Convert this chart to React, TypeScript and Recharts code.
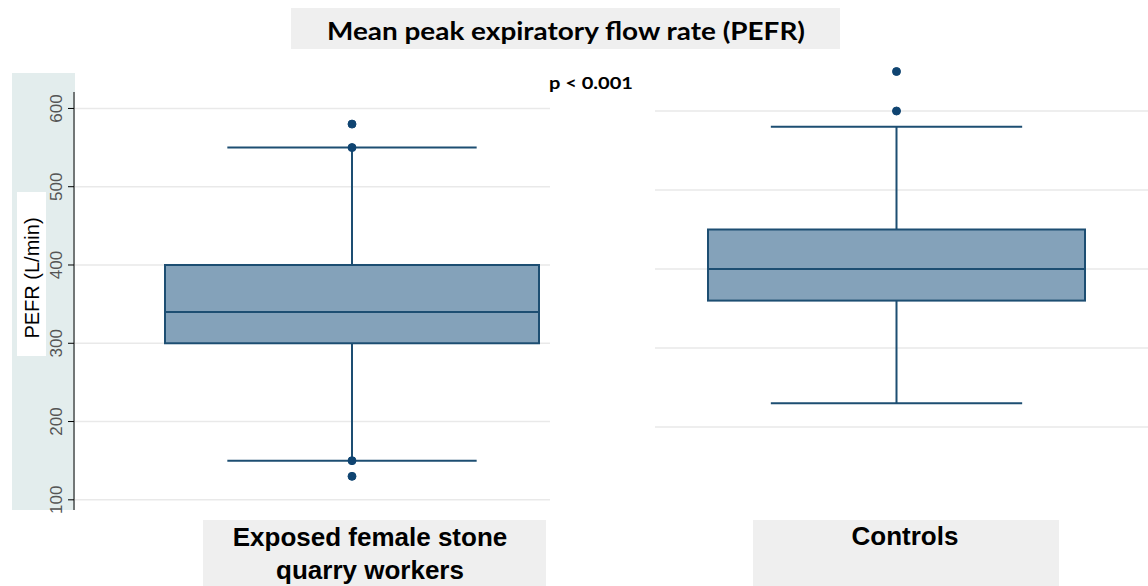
import React from 'react';
import { ComposedChart, Bar, Line, XAxis, YAxis, CartesianGrid } from 'recharts';

const categories = ['Exposed female stone quarry workers', 'Controls'];
const whiskerLow = [150, 230];
const q1 = [300, 360];
const median = [340, 400];
const q3 = [400, 450];
const whiskerHigh = [550, 580];
const outliers = [[130, 150, 550, 580], [600, 650]];
const leftTicks = [100, 200, 300, 400, 500, 600];
const rightTicks = [200, 300, 400, 500, 600];
const title = 'Mean peak expiratory flow rate (PEFR)';
const pText = 'p < 0.001';
const yLabel = 'PEFR (L/min)';
const xLabelLines = [['Exposed female stone', 'quarry workers'], ['Controls']];

const BOX_FILL = '#84a2ba';
const LINE = '#1d4e72';
const DOT = '#0f4471';

function rowFor(i: number) {
  const row: any = {
    name: categories[i],
    range: [whiskerLow[i], whiskerHigh[i]],
    low: whiskerLow[i],
    q1: q1[i],
    median: median[i],
    q3: q3[i],
    high: whiskerHigh[i],
  };
  outliers[i].forEach((v, k) => {
    row['o' + k] = v;
  });
  return [row];
}

const BoxShape = (props: any) => {
  const { x, y, width, height, payload } = props;
  const top = Math.min(y, y + height);
  const bottom = Math.max(y, y + height);
  const lo = payload.low;
  const hi = payload.high;
  const toY = (v: number) => bottom - ((bottom - top) * (v - lo)) / (hi - lo);
  const cx = x + width / 2;
  const capHalf = width / 3;
  const yq1 = toY(payload.q1);
  const yq3 = toY(payload.q3);
  const ym = toY(payload.median);
  return (
    <g>
      <line x1={cx} x2={cx} y1={top} y2={bottom} stroke={LINE} strokeWidth={2} />
      <line x1={cx - capHalf} x2={cx + capHalf} y1={top} y2={top} stroke={LINE} strokeWidth={2} />
      <line x1={cx - capHalf} x2={cx + capHalf} y1={bottom} y2={bottom} stroke={LINE} strokeWidth={2} />
      <rect x={x} y={yq3} width={width} height={yq1 - yq3} fill={BOX_FILL} stroke={LINE} strokeWidth={2} />
      <line x1={x} x2={x + width} y1={ym} y2={ym} stroke={LINE} strokeWidth={2} />
    </g>
  );
};

const RotTick = (props: any) => {
  const { x, y, payload } = props;
  const tx = x - 4;
  return (
    <text
      x={tx}
      y={y}
      transform={`rotate(-90, ${tx}, ${y})`}
      textAnchor="middle"
      fontFamily="'Liberation Sans', Arial, sans-serif"
      fontSize={17}
      fill="#555"
    >
      {payload.value}
    </text>
  );
};

function outlierLines(i: number) {
  return outliers[i].map((_, k) => (
    <Line
      key={'o' + k}
      dataKey={'o' + k}
      stroke="none"
      isAnimationActive={false}
      dot={{ r: 4, fill: DOT, stroke: DOT, strokeWidth: 1 }}
      activeDot={false}
    />
  ));
}

export default function App() {
  const left = rowFor(0);
  const right = rowFor(1);
  return (
    <div style={{ position: 'absolute', left: 0, top: 0, width: 1148, height: 586, background: '#fff', overflow: 'hidden' }}>
      <svg width={1148} height={586} style={{ position: 'absolute', left: 0, top: 0 }}>
        <rect x={291} y={8} width={549} height={41} fill="#efefef" />
        <text x={566} y={40} textAnchor="middle" fontFamily="Lato, 'Open Sans', sans-serif" fontWeight={700} fontSize={25} fill="#000" textLength={478} lengthAdjust="spacingAndGlyphs">
          {title}
        </text>
        <text x={591} y={89} textAnchor="middle" fontFamily="Lato, 'Open Sans', sans-serif" fontWeight={700} fontSize={17} fill="#000" textLength={84} lengthAdjust="spacingAndGlyphs">
          {pText}
        </text>
        <rect x={12} y={73} width={63} height={437} fill="#e3eded" />
        <rect x={17} y={192} width={29} height={164} fill="#fff" />
        <text x={39} y={278} transform="rotate(-90, 39, 278)" textAnchor="middle" fontFamily="'Liberation Sans', Arial, sans-serif" fontSize={20} fill="#000">
          {yLabel}
        </text>
        <rect x={203} y={520} width={343} height={66} fill="#efefef" />
        <rect x={753} y={520} width={306} height={66} fill="#efefef" />
        {xLabelLines[0].map((t, k) => (
          <text key={k} x={370} y={546 + k * 33} textAnchor="middle" fontFamily="'Liberation Sans', Arial, sans-serif" fontWeight={700} fontSize={26} fill="#000">
            {t}
          </text>
        ))}
        {xLabelLines[1].map((t, k) => (
          <text key={k} x={905} y={545 + k * 33} textAnchor="middle" fontFamily="'Liberation Sans', Arial, sans-serif" fontWeight={700} fontSize={26} fill="#000">
            {t}
          </text>
        ))}
      </svg>

      <div style={{ position: 'absolute', left: 0, top: 0 }}>
        <ComposedChart width={560} height={520} data={left} margin={{ top: 92, right: 10, bottom: 10, left: 14 }}>
          <CartesianGrid vertical={false} horizontalValues={leftTicks} stroke="#e9e9e9" strokeWidth={1.5} />
          <XAxis dataKey="name" hide padding={{ left: 80, right: 0 }} />
          <YAxis
            type="number"
            domain={[87, 621]}
            ticks={leftTicks}
            interval={0}
            width={60}
            axisLine={{ stroke: '#000', strokeWidth: 1 }}
            tickLine={{ stroke: '#000', strokeWidth: 1 }}
            tickSize={6}
            tickMargin={2}
            tick={<RotTick />}
          />
          <Bar dataKey="range" barSize={374} shape={<BoxShape />} isAnimationActive={false} />
          {outlierLines(0)}
        </ComposedChart>
      </div>

      <div style={{ position: 'absolute', left: 640, top: 0 }}>
        <ComposedChart width={508} height={520} data={right} margin={{ top: 63.6, right: 0, bottom: 77.2, left: 15 }}>
          <CartesianGrid vertical={false} horizontalValues={rightTicks} stroke="#e9e9e9" strokeWidth={1.5} />
          <XAxis dataKey="name" hide padding={{ left: 0, right: 10 }} />
          <YAxis type="number" domain={[180, 660]} ticks={rightTicks} interval={0} hide />
          <Bar dataKey="range" barSize={377} shape={<BoxShape />} isAnimationActive={false} />
          {outlierLines(1)}
        </ComposedChart>
      </div>
    </div>
  );
}
